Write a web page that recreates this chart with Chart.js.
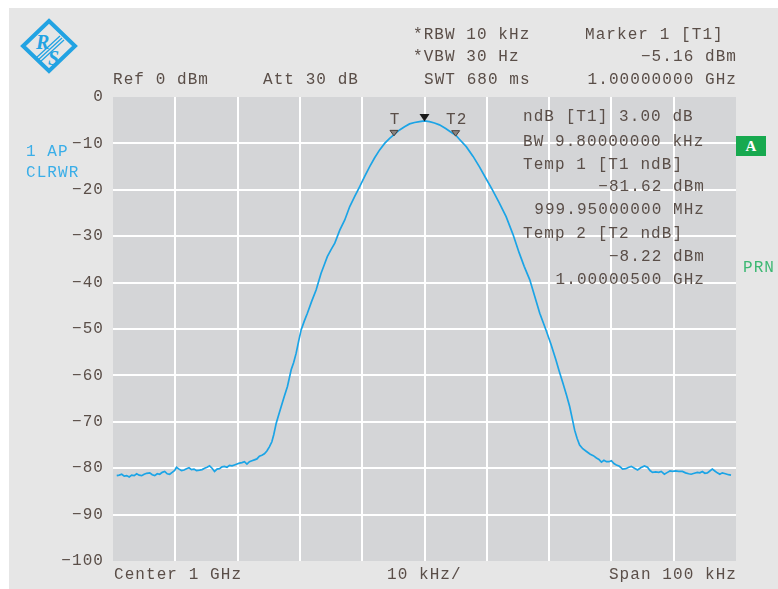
<!DOCTYPE html>
<html><head><meta charset="utf-8">
<script src="https://cdn.jsdelivr.net/npm/chart.js@4/dist/chart.umd.min.js"></script>
<style>
html,body{margin:0;padding:0;background:#fff;}
#wrap{position:relative;width:778px;height:589px;overflow:hidden;}
#panel{position:absolute;left:9px;top:8px;width:769px;height:581px;background:#e6e6e6;}
#c{position:absolute;left:0;top:0;}
.t{position:absolute;font-family:'Liberation Mono',monospace;font-size:16px;letter-spacing:1.07px;color:#5a4e48;line-height:18px;white-space:pre;}
.b{color:#3aaee8;}
.g{color:#3db873;}
#abox{position:absolute;left:736px;top:136px;width:30px;height:20px;background:#17a94f;color:#fff;font-family:'Liberation Serif',serif;font-weight:bold;font-size:15px;line-height:20px;text-align:center;}
#logo{position:absolute;left:0;top:0;}
</style></head>
<body>
<div id="wrap">
<div id="panel"></div>
<svg id="logo" width="100" height="90">
  <polygon points="49,21 75,46 49,71 23,46" fill="none" stroke="#22a3e3" stroke-width="4"/>
  <g stroke="#22a3e3" stroke-width="1.3">
    <line x1="36" y1="58" x2="60" y2="36"/>
    <line x1="38" y1="60" x2="62" y2="38"/>
    <line x1="40" y1="62" x2="64" y2="40"/>
  </g>
  <text x="36" y="49" font-family="Liberation Serif,serif" font-style="italic" font-weight="bold" font-size="20" fill="#22a3e3">R</text>
  <text x="48" y="65" font-family="Liberation Serif,serif" font-style="italic" font-weight="bold" font-size="20" fill="#22a3e3">S</text>
</svg>
<canvas id="c" width="778" height="589"></canvas>

<div class="t" style="left:113px;top:71px;">Ref 0 dBm</div>
<div class="t" style="left:263px;top:71px;">Att 30 dB</div>
<div class="t" style="left:413px;top:26px;">*RBW 10 kHz</div>
<div class="t" style="left:413px;top:48px;">*VBW 30 Hz</div>
<div class="t" style="left:424px;top:71px;">SWT 680 ms</div>
<div class="t" style="left:585px;top:26px;">Marker 1 [T1]</div>
<div class="t" style="right:41px;top:48px;">−5.16 dBm</div>
<div class="t" style="right:41px;top:71px;">1.00000000 GHz</div>

<div class="t" style="left:523px;top:108px;">ndB [T1] 3.00 dB</div>
<div class="t" style="left:523px;top:133px;">BW 9.80000000 kHz</div>
<div class="t" style="left:523px;top:156px;">Temp 1 [T1 ndB]</div>
<div class="t" style="right:73px;top:178px;">−81.62 dBm</div>
<div class="t" style="right:73px;top:201px;">999.95000000 MHz</div>
<div class="t" style="left:523px;top:225px;">Temp 2 [T2 ndB]</div>
<div class="t" style="right:73px;top:248px;">−8.22 dBm</div>
<div class="t" style="right:73px;top:271px;">1.00000500 GHz</div>

<div class="t b" style="left:26px;top:143px;">1 AP</div>
<div class="t b" style="left:26px;top:164px;">CLRWR</div>
<div id="abox">A</div>
<div class="t g" style="left:743px;top:259px;">PRN</div>

<div class="t" style="left:114px;top:566px;">Center 1 GHz</div>
<div class="t" style="left:387px;top:566px;">10 kHz/</div>
<div class="t" style="right:41px;top:566px;">Span 100 kHz</div>
</div>

<script>
const freqKHz = [
-49.4,-49.0,-48.6,-48.2,-47.8,-47.4,-47.0,-46.6,-46.2,-45.8,-45.4,-45.0,-44.6,-44.1,-43.7,-43.3,-42.9,-42.5,-42.1,-41.7,
-41.3,-40.9,-40.5,-40.1,-39.8,-39.4,-39.0,-38.6,-38.2,-37.8,-37.4,-37.0,-36.6,-36.1,-35.7,-35.3,-34.9,-34.5,-34.1,-33.7,
-33.3,-32.9,-32.5,-32.1,-31.7,-31.3,-30.9,-30.5,-30.1,-29.7,-29.3,-28.9,-28.5,-28.1,-27.7,-27.3,-26.9,-26.5,-26.1,-25.7,
-25.3,-24.9,-24.5,-24.2,-23.8,-23.4,-23.0,-22.5,-22.0,-21.4,-21.0,-20.6,-20.2,-19.8,-19.3,-18.8,-18.1,-17.4,-16.6,-16.1,
-15.6,-15.0,-14.4,-13.6,-12.8,-12.0,-11.2,-10.4,-9.6,-8.8,-8.0,-7.2,-6.4,-5.6,-4.8,-4.0,-3.2,-2.4,-1.6,-0.8,
0,0.8,1.6,2.4,3.4,4.5,5.0,5.6,6.7,7.8,8.8,9.8,10.9,12.0,13.1,14.2,15.2,16.0,16.9,17.7,
18.5,19.5,20.3,21.1,21.6,22.2,22.8,23.3,23.7,24.1,24.5,24.9,25.4,26.0,26.6,27.1,27.6,28.0,28.4,28.8,
29.2,29.6,30.0,30.4,30.8,31.3,31.8,32.3,32.8,33.2,33.7,34.2,34.7,35.3,35.8,36.2,36.6,37.1,37.6,38.0,
38.5,39.0,39.4,39.8,40.3,40.8,41.4,41.9,42.4,42.8,43.3,43.8,44.2,44.6,45.0,45.4,45.8,46.2,46.6,47.0,
47.4,47.8,48.3,48.8,49.2
];
const levelDbm = [
-81.6,-81.5,-81.3,-81.7,-81.6,-81.9,-81.5,-81.6,-81.2,-81.5,-81.6,-81.3,-81.1,-81.0,-81.4,-81.6,-81.2,-81.3,-80.9,-80.7,
-81.2,-81.3,-80.9,-80.5,-79.8,-80.2,-80.5,-80.4,-80.1,-79.9,-80.3,-80.2,-80.5,-80.4,-80.3,-80.0,-79.8,-79.5,-80.0,-80.7,
-80.2,-80.1,-79.7,-79.6,-79.8,-79.4,-79.5,-79.3,-79.1,-78.9,-78.8,-78.6,-79.1,-78.6,-78.4,-78.2,-78.0,-77.4,-77.2,-76.9,
-76.3,-75.4,-74.3,-72.8,-70.3,-68.5,-66.7,-64.5,-62.4,-58.8,-57.2,-55.2,-52.6,-50.2,-48.3,-46.6,-44.0,-41.6,-38.0,-36.2,
-34.4,-32.9,-31.5,-28.7,-26.5,-23.6,-21.4,-19.3,-17.1,-15.0,-13.1,-11.4,-10.0,-8.9,-8.0,-7.1,-6.4,-5.8,-5.5,-5.3,
-5.16,-5.3,-5.6,-6.0,-6.8,-7.8,-8.2,-9.1,-10.7,-12.8,-15.0,-17.4,-20.0,-22.8,-25.8,-29.6,-33.6,-36.5,-39.4,-43.0,
-46.6,-50.2,-53.3,-56.7,-59.0,-61.6,-64.3,-66.7,-69.2,-71.8,-73.6,-75.0,-75.8,-76.4,-77.0,-77.3,-77.8,-78.1,-78.7,-78.3,
-78.6,-78.6,-78.4,-79.0,-79.3,-79.6,-80.2,-80.1,-79.8,-79.6,-80.0,-80.4,-79.9,-79.5,-79.8,-80.5,-80.9,-80.8,-80.9,-80.7,
-81.3,-80.9,-80.6,-80.7,-80.6,-80.7,-80.7,-81.0,-81.2,-81.3,-81.1,-80.9,-81.0,-80.7,-81.1,-81.0,-80.6,-80.2,-80.6,-81.0,
-81.3,-81.0,-81.2,-81.4,-81.5
];
const yTickValues = [0,-10,-20,-30,-40,-50,-60,-70,-80,-90,-100];
const yTickLabels = ['0','−10','−20','−30','−40','−50','−60','−70','−80','−90','−100'];
const markerFreqKHz = [0, -4.9, 5.0];
const markerLevelDbm = [-5.16, -8.16, -8.22];
const markerNames = ['', 'T', 'T2'];

const TEXT = '#5a4e48';
const FONT = 'Liberation Mono';

const plotBg = {
  id: 'plotBg',
  beforeDraw(chart) {
    const {ctx, chartArea: a} = chart;
    ctx.save();
    ctx.fillStyle = '#d4d5d7';
    ctx.fillRect(a.left, a.top, a.right - a.left, a.bottom - a.top);
    ctx.restore();
    ctx.letterSpacing = '1.07px';
  }
};

const markers = {
  id: 'markers',
  afterDatasetsDraw(chart) {
    const {ctx, scales: {x, y}} = chart;
    ctx.save();
    for (let i = 0; i < markerFreqKHz.length; i++) {
      const px = x.getPixelForValue(markerFreqKHz[i]);
      const py = y.getPixelForValue(markerLevelDbm[i]);
      if (i === 0) {
        const cy = py - 3;
        ctx.beginPath();
        ctx.moveTo(px - 5, cy - 4);
        ctx.lineTo(px + 5, cy - 4);
        ctx.lineTo(px, cy + 3.5);
        ctx.closePath();
        ctx.fillStyle = '#1a1a1a';
        ctx.fill();
      } else {
        const cy = py - 2;
        ctx.beginPath();
        ctx.moveTo(px - 4, cy - 2.5);
        ctx.lineTo(px + 4, cy - 2.5);
        ctx.lineTo(px, cy + 3);
        ctx.closePath();
        ctx.fillStyle = '#8a8480';
        ctx.fill();
        ctx.strokeStyle = '#4a403b';
        ctx.lineWidth = 1;
        ctx.stroke();
        ctx.font = '16px ' + FONT;
        ctx.letterSpacing = '1.07px';
        ctx.fillStyle = TEXT;
        ctx.textAlign = 'center';
        ctx.textBaseline = 'middle';
        ctx.fillText(markerNames[i], px + 1, py - 15);
      }
    }
    ctx.restore();
  }
};

const gridColor = (ctx, lo, hi) => (ctx.tick && (ctx.tick.value === lo || ctx.tick.value === hi)) ? 'rgba(0,0,0,0)' : '#ffffff';

new Chart(document.getElementById('c'), {
  type: 'line',
  data: {
    datasets: [{
      data: freqKHz.map((f, i) => ({x: f, y: levelDbm[i]})),
      borderColor: '#1ba4e6',
      borderWidth: 1.7,
      pointRadius: 0,
      tension: 0,
      fill: false
    }]
  },
  options: {
    responsive: false,
    animation: false,
    devicePixelRatio: 1,
    layout: {padding: {left: 0, top: 97, right: 42, bottom: 28}},
    plugins: {legend: {display: false}, tooltip: {enabled: false}},
    scales: {
      x: {
        type: 'linear', min: -50, max: 50,
        ticks: {stepSize: 10, display: false},
        grid: {color: c => gridColor(c, -50, 50), lineWidth: 2, drawTicks: false},
        border: {display: false},
        afterFit: s => { s.height = 0; }
      },
      y: {
        type: 'linear', min: -100, max: 0,
        afterBuildTicks: s => { s.ticks = yTickValues.map(v => ({value: v})); },
        ticks: {
          padding: 9, color: TEXT, font: {family: FONT, size: 16},
          callback: v => yTickLabels[yTickValues.indexOf(v)]
        },
        grid: {color: c => gridColor(c, -100, 0), lineWidth: 2, drawTicks: false},
        border: {display: false},
        afterFit: s => { s.width = 113; }
      }
    }
  },
  plugins: [plotBg, markers]
});
</script>
</body></html>
